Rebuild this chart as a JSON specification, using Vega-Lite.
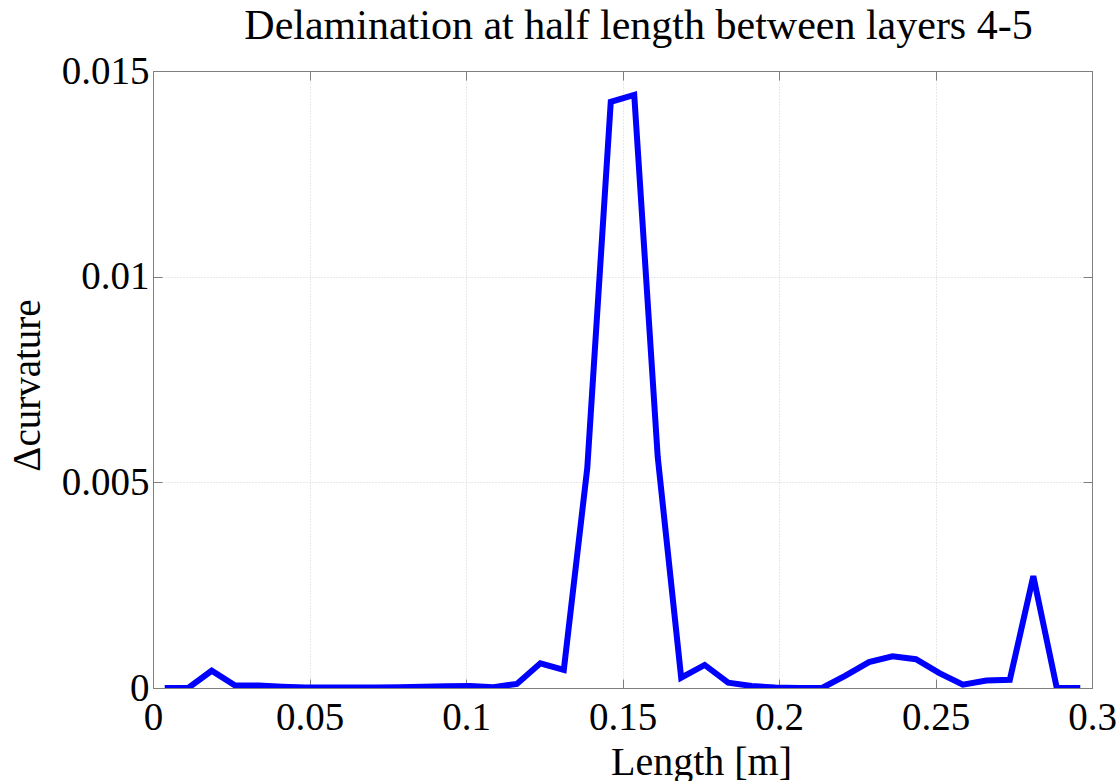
{
  "$schema": "https://vega.github.io/schema/vega-lite/v6.json",
  "width": 939,
  "height": 617,
  "autosize": {"type": "none"},
  "padding": {"left": 153, "top": 71, "right": 28, "bottom": 93},
  "background": "white",
  "title": {
    "text": "Delamination at half length between layers 4-5",
    "font": "Liberation Serif",
    "fontSize": 42,
    "fontWeight": "normal",
    "color": "black",
    "anchor": "middle",
    "frame": "group",
    "dx": 16,
    "dy": 29,
    "baseline": "alphabetic",
    "offset": 0
  },
  "data": {
    "values": [
      {"length": 0.00375, "dcurv": 0},
      {"length": 0.01125, "dcurv": 0},
      {"length": 0.01875, "dcurv": 0.00042},
      {"length": 0.02625, "dcurv": 0.00006},
      {"length": 0.03375, "dcurv": 0.00006},
      {"length": 0.04125, "dcurv": 0.00003},
      {"length": 0.04875, "dcurv": 0.00001},
      {"length": 0.05625, "dcurv": 0.00001},
      {"length": 0.06375, "dcurv": 0.00001},
      {"length": 0.07125, "dcurv": 0.00001},
      {"length": 0.07875, "dcurv": 0.00002},
      {"length": 0.08625, "dcurv": 0.00003},
      {"length": 0.09375, "dcurv": 0.00004},
      {"length": 0.10125, "dcurv": 0.00005},
      {"length": 0.10875, "dcurv": 0.00002},
      {"length": 0.11625, "dcurv": 0.0001},
      {"length": 0.12375, "dcurv": 0.0006},
      {"length": 0.13125, "dcurv": 0.00044},
      {"length": 0.13875, "dcurv": 0.00535},
      {"length": 0.14625, "dcurv": 0.01425},
      {"length": 0.15375, "dcurv": 0.01442},
      {"length": 0.16125, "dcurv": 0.00562},
      {"length": 0.16875, "dcurv": 0.00025},
      {"length": 0.17625, "dcurv": 0.00056},
      {"length": 0.18375, "dcurv": 0.00013},
      {"length": 0.19125, "dcurv": 0.00005},
      {"length": 0.19875, "dcurv": 0.00001},
      {"length": 0.20625, "dcurv": 0},
      {"length": 0.21375, "dcurv": 0},
      {"length": 0.22125, "dcurv": 0.0003},
      {"length": 0.22875, "dcurv": 0.00063},
      {"length": 0.23625, "dcurv": 0.00077},
      {"length": 0.24375, "dcurv": 0.0007},
      {"length": 0.25125, "dcurv": 0.00036},
      {"length": 0.25875, "dcurv": 0.00008},
      {"length": 0.26625, "dcurv": 0.00018},
      {"length": 0.27375, "dcurv": 0.0002},
      {"length": 0.28125, "dcurv": 0.00272},
      {"length": 0.28875, "dcurv": 0},
      {"length": 0.29625, "dcurv": 0}
    ]
  },
  "config": {
    "view": {"stroke": "#7f7f7f", "strokeWidth": 1},
    "axis": {
      "domainColor": "#7f7f7f",
      "tickColor": "#7f7f7f",
      "tickSize": -9,
      "labelFont": "Liberation Serif",
      "labelFontSize": 39,
      "labelColor": "black",
      "titleFont": "Liberation Serif",
      "titleFontSize": 39,
      "titleFontWeight": "normal",
      "titleColor": "black",
      "gridColor": "#d0d0d0",
      "gridDash": [1, 2],
      "gridWidth": 1
    }
  },
  "layer": [
    {
      "mark": {"type": "line", "color": "#0000ff", "strokeWidth": 6, "strokeJoin": "miter", "clip": true},
      "encoding": {
        "x": {
          "field": "length",
          "type": "quantitative",
          "scale": {"domain": [0, 0.3], "nice": false, "zero": false},
          "axis": {
            "values": [0, 0.05, 0.1, 0.15, 0.2, 0.25, 0.3],
            "format": ".3~g",
            "grid": true,
            "labelPadding": 19,
            "labelFlush": false,
            "title": "Length [m]",
            "titleFontSize": 40,
            "titleX": 548,
            "titleY": 86,
            "titleBaseline": "alphabetic"
          }
        },
        "y": {
          "field": "dcurv",
          "type": "quantitative",
          "scale": {"domain": [0, 0.015], "nice": false},
          "axis": {
            "values": [0, 0.005, 0.01, 0.015],
            "format": ".3~g",
            "grid": true,
            "labelPadding": 13,
            "labelFlush": false,
            "title": "Δcurvature",
            "titleAngle": -90,
            "titleX": -114,
            "titleY": 314,
            "titleAlign": "center",
            "titleBaseline": "alphabetic"
          }
        }
      }
    },
    {
      "mark": {"type": "line", "opacity": 0},
      "encoding": {
        "x": {
          "field": "length",
          "type": "quantitative",
          "scale": {"domain": [0, 0.3], "nice": false, "zero": false},
          "axis": {"orient": "top", "values": [0, 0.05, 0.1, 0.15, 0.2, 0.25, 0.3], "labels": false, "grid": false, "title": null}
        },
        "y": {
          "field": "dcurv",
          "type": "quantitative",
          "scale": {"domain": [0, 0.015], "nice": false},
          "axis": {"orient": "right", "values": [0, 0.005, 0.01, 0.015], "labels": false, "grid": false, "title": null}
        }
      }
    }
  ],
  "resolve": {"axis": {"x": "independent", "y": "independent"}}
}
